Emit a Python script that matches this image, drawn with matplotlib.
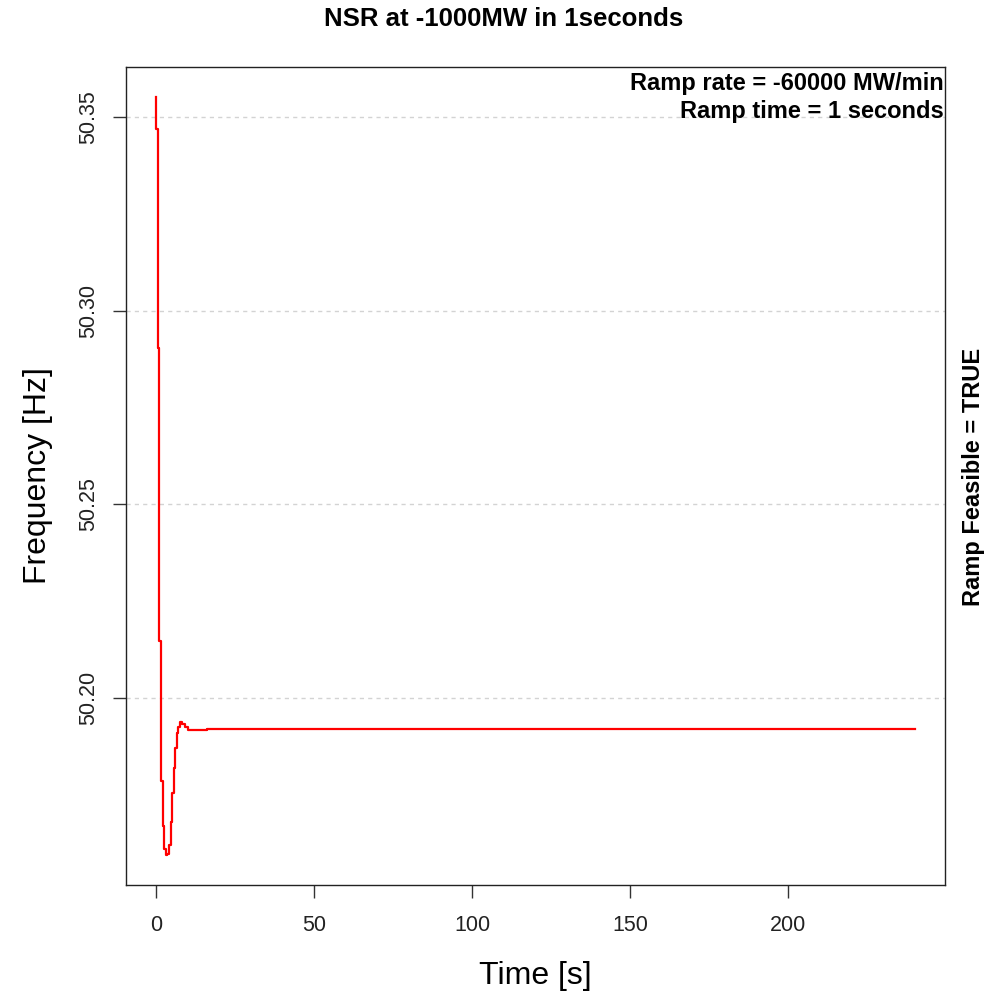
import matplotlib.pyplot as plt

plt.rcParams['font.family'] = ['Liberation Sans', 'DejaVu Sans']

# simulated frequency response after the ramp (0.5 s steps at the start)
t = [0, 0.5, 1.0, 1.5, 2.0, 2.5, 3.0, 3.5, 4.0, 4.5, 5.0, 5.5, 6.0, 6.5,
     7.0, 7.5, 8.0, 9.0, 10.0, 11.0, 12.5, 16.0, 17.0, 240.0]
freq = [50.3552, 50.3471, 50.2904, 50.2147, 50.1785, 50.1670, 50.1610,
        50.1595, 50.1597, 50.1620, 50.1680, 50.1755, 50.1820, 50.1870,
        50.1910, 50.1926, 50.1937, 50.1933, 50.1925, 50.1918, 50.1917,
        50.1917, 50.1920, 50.1920]

xticks = [0, 50, 100, 150, 200]
yticks = [50.20, 50.25, 50.30, 50.35]

fig = plt.figure(figsize=(10.07, 9.93), dpi=100)
ax = fig.add_axes([0.1251, 0.1088, 0.8133, 0.8237])

for yv in yticks:
    ax.axhline(yv, color='#d3d3d3', linestyle=(0, (3, 3)), linewidth=1.0, zorder=1)

ax.plot(t, freq, color='red', linewidth=1.6, drawstyle='steps-pre', zorder=3)

# R-style 4% padding
xr = max(t) - min(t)
yr = max(freq) - min(freq)
ax.set_xlim(min(t) - 0.04 * xr, max(t) + 0.04 * xr)
ax.set_ylim(min(freq) - 0.04 * yr, max(freq) + 0.04 * yr)

ax.set_xticks(xticks)
ax.set_xticklabels([str(v) for v in xticks])
ax.set_yticks(yticks)
ax.set_yticklabels(['%.2f' % v for v in yticks], rotation=90, va='center')
ax.tick_params(axis='both', labelsize=15.5, length=9.5, width=1, color='#333333',
               labelcolor='#222222')
ax.tick_params(axis='x', pad=12)
ax.tick_params(axis='y', pad=9.5)

for s in ax.spines.values():
    s.set_linewidth(1.0)
    s.set_color('#222222')

ax.set_xlabel('Time [s]', fontsize=23)
ax.set_ylabel('Frequency [Hz]', fontsize=23)
ax.xaxis.set_label_coords(0.5, -0.111)
ax.xaxis.label.set_va('center')
ax.yaxis.set_label_coords(-0.108, 0.5)
ax.yaxis.label.set_va('center')

fig.suptitle('NSR at -1000MW in 1seconds', fontsize=18.5, fontweight='bold', y=0.993)

ax.text(0.998, 0.994, 'Ramp rate = -60000 MW/min\nRamp time = 1 seconds',
        transform=ax.transAxes, ha='right', va='top', fontsize=17,
        fontweight='bold', linespacing=1.3)

fig.text(0.9665, 0.52, 'Ramp Feasible = TRUE', rotation=90, ha='center',
         va='center', fontsize=17, fontweight='bold')

plt.savefig('out.png', dpi=100)
